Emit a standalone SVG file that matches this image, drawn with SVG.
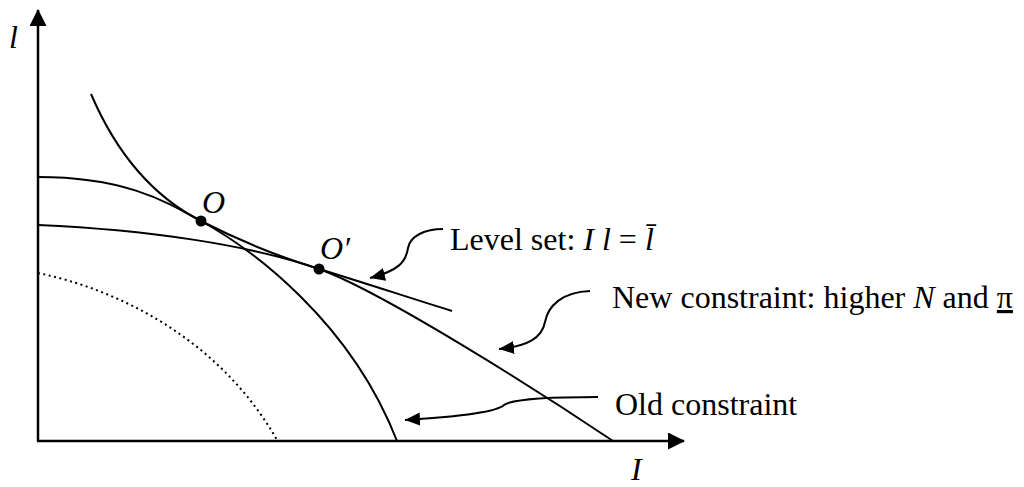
<svg xmlns="http://www.w3.org/2000/svg" width="1024" height="487" viewBox="0 0 1024 487">
<style>
text{font-family:"Liberation Serif","Times New Roman",serif;font-size:32px;fill:#000}
.it{font-style:italic}
.crv{fill:none;stroke:#000;stroke-width:2}
.ax{fill:none;stroke:#000;stroke-width:2.5}
.ptr{fill:none;stroke:#000;stroke-width:2;marker-end:url(#ah)}
</style>
<defs>
<marker id="ah" markerUnits="userSpaceOnUse" markerWidth="16" markerHeight="14" refX="15" refY="6.5" orient="auto">
<path d="M0,0 L15,6.5 L0,13 z" fill="#000"/>
</marker>
<marker id="axh" markerUnits="userSpaceOnUse" markerWidth="18" markerHeight="18" refX="16" refY="8.5" orient="auto">
<path d="M0,0 L17,8.5 L0,17 z" fill="#000"/>
</marker>
</defs>
<g id="axes">
<path class="ax" d="M38,441 L38,10" marker-end="url(#axh)"/>
<path class="ax" d="M37,441 L684,441" marker-end="url(#axh)"/>
<text class="it" x="9" y="48">l</text>
<text class="it" x="631" y="480">I</text>
</g>
<g id="curves">
<path id="dotted" class="crv" d="M38,273 C120,290 220,340 277,440" stroke-dasharray="2 3.5"/>
<path id="old-constraint" class="crv" d="M38,177 C125,177 165,201 201,221 C250,248 350,320 397,441"/>
<path id="new-constraint" class="crv" d="M38,225 C150,230 250,245 319,269 C381,291 540,392 613,441"/>
<path id="level-set" class="crv" d="M91,94 C115,150 150,195 201,221 C240,241 280,257 319,269 C365,283 410,298 452,311"/>
</g>
<g id="point-O">
<circle cx="201" cy="221" r="5.5"/>
<text class="it" x="202" y="213">O</text>
</g>
<g id="point-O2">
<circle cx="319" cy="269" r="5.5"/>
<text class="it" x="320" y="259">O′</text>
</g>
<g id="label-level">
<text x="450" y="250">Level set:  <tspan class="it">I l</tspan> = <tspan class="it">l̄</tspan></text>
</g>
<g id="label-new">
<text x="612" y="308">New constraint: higher <tspan class="it">N</tspan> and <tspan text-decoration="underline">π</tspan></text>
</g>
<g id="label-old">
<text x="615" y="415">Old constraint</text>
</g>
<g id="connectors">
<path class="ptr" d="M443,229 C425,229 410,236 408,248 C406,262 398,271 370,278"/>
<path class="ptr" d="M590,291 C562,292 548,306 545,322 C542,338 528,346 499,349"/>
<path class="ptr" d="M598,397 C550,397 512,399 504,405 C498,411 470,416 405,420"/>
</g>
</svg>
